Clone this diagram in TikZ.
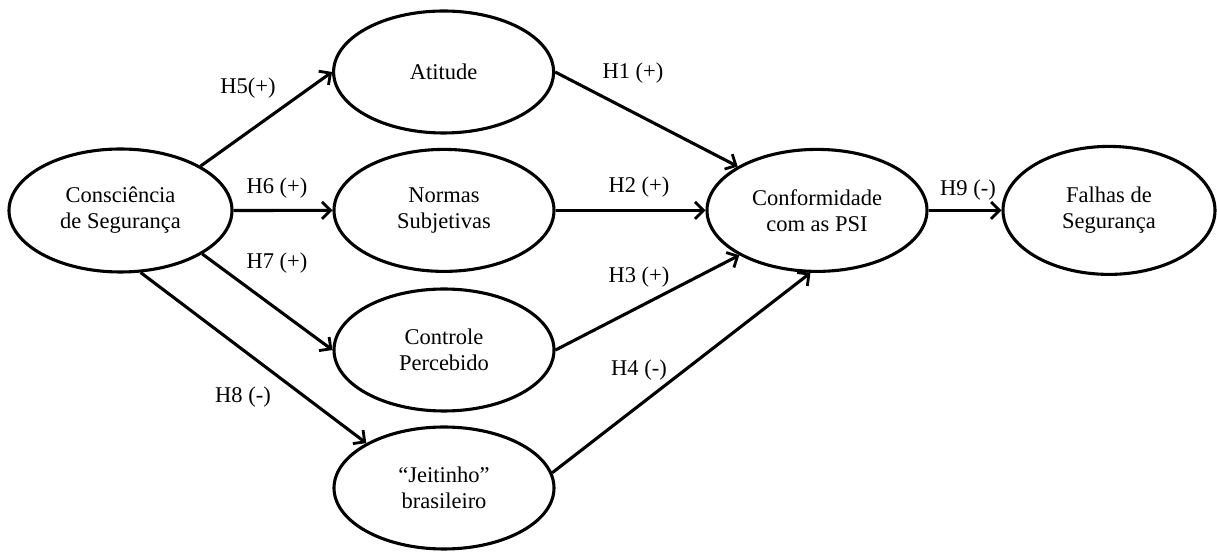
\documentclass[tikz,border=0pt]{standalone}
\usepackage{fontspec}
\setmainfont{Liberation Serif}
\usepackage{tikz}
\usetikzlibrary{
  positioning,
  shapes.geometric,
  arrows.meta
}

\begin{document}
\begin{tikzpicture}[
    construct/.style={ellipse, draw, line width=2.2pt, inner sep=0pt,
      minimum width=5.5cm, minimum height=3.05cm, align=center,
      font=\fontsize{16}{18.5}\selectfont},
    path/.style={line width=2.2pt, -{Straight Barb[length=6pt,width=12pt,line width=2pt]}},
    hyp/.style={font=\fontsize{16}{18.5}\selectfont}
  ]
      \useasboundingbox (0,0) rectangle (30.425,13.8);

      % Constructs
      \node[construct, minimum width=5.575cm, minimum height=3.075cm] (cons) at (3.0125,8.5375) {Consciência\\de Segurança};
      \node[construct] (att) at (11.09,12.0) {Atitude};
      \node[construct] (norm) at (11.1,8.54) {Normas\\Subjetivas};
      \node[construct] (ctrl) at (11.1,5.05) {Controle\\Percebido};
      \node[construct] (jeit) at (11.1,1.6) {“Jeitinho”\\brasileiro};
      \node[construct] (conf) at (20.425,8.54) {Conformidade\\com as PSI};
      \node[construct, minimum width=5.3cm, minimum height=3.2cm] (fal) at (27.725,8.54) {Falhas de\\Segurança};

      % Paths
      \draw[path] (cons.29) -- (att.west);
      \draw[path] (cons.east) -- (norm.west);
      \draw[path] (cons.-28) -- (ctrl.west);
      \draw[path] (cons.-72) -- (jeit.150);
      \draw[path] (att.east) -- (conf.151);
      \draw[path] (norm.east) -- (conf.west);
      \draw[path] (ctrl.east) -- (conf.210);
      \draw[path] (jeit.8) -- (conf.264);
      \draw[path] (conf.east) -- (fal.west);

      % Hypotheses
      \node[hyp] (h5) at (6.2,11.6) {H5(+)};
      \node[hyp] (h6) at (6.925,9.1) {H6 (+)};
      \node[hyp] (h7) at (6.925,7.225) {H7 (+)};
      \node[hyp] (h8) at (6.075,3.875) {H8 (-)};
      \node[hyp] (h1) at (15.825,11.975) {H1 (+)};
      \node[hyp] (h2) at (15.975,9.125) {H2 (+)};
      \node[hyp] (h3) at (15.975,6.875) {H3 (+)};
      \node[hyp] (h4) at (15.975,4.55) {H4 (-)};
      \node[hyp] (h9) at (24.2,9.05) {H9 (-)};
    \end{tikzpicture}
\end{document}
